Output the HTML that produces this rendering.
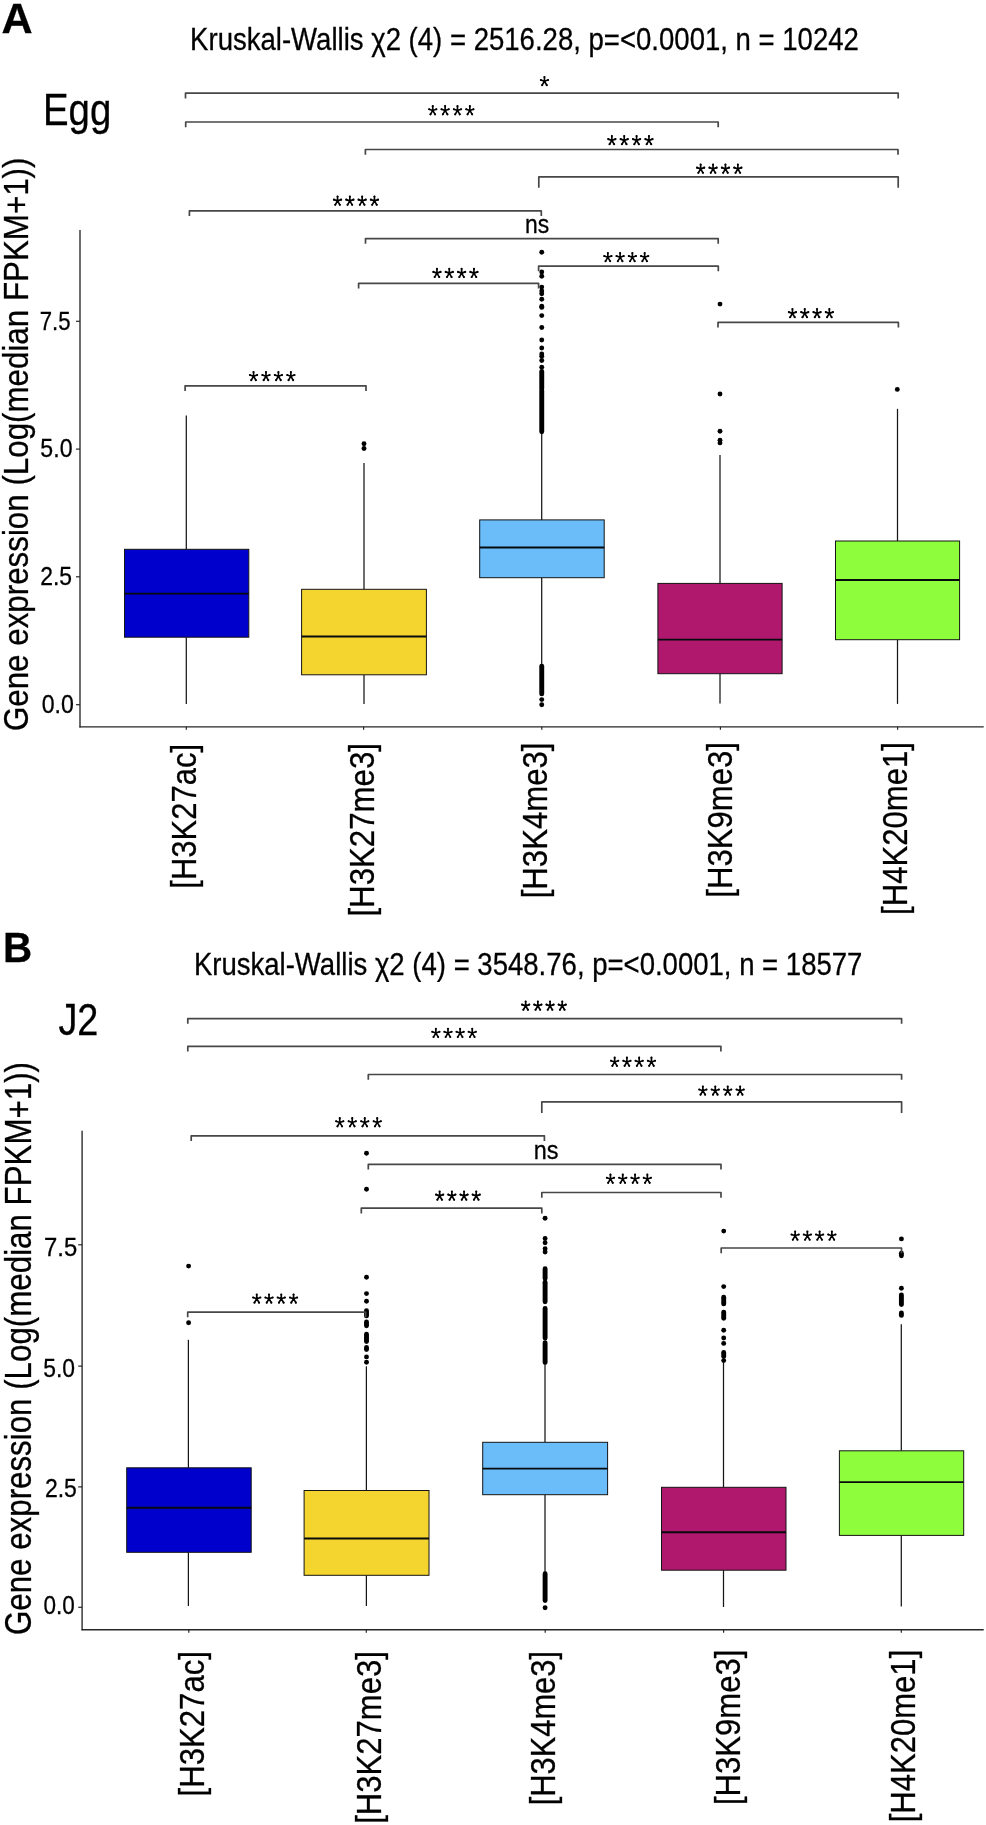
<!DOCTYPE html><html><head><meta charset="utf-8"><style>html,body{margin:0;padding:0;background:#fff;}svg{display:block;}.t{filter:grayscale(1);stroke:#000;stroke-width:0.3px;}text{font-family:"Liberation Sans",sans-serif;}</style></head><body>
<svg width="986" height="1825" viewBox="0 0 986 1825">
<defs><g id="ast"><path d="M0,0V-4.3M0,0L-3.6,-1.25M0,0L3.6,-1.25M0,0L-2.3,3.9M0,0L2.3,3.9" stroke="#000" stroke-width="1.65" stroke-linecap="round" fill="none"/><circle cx="0" cy="-4.3" r="1.05"/><circle cx="-3.6" cy="-1.25" r="1.05"/><circle cx="3.6" cy="-1.25" r="1.05"/><circle cx="-2.3" cy="3.9" r="1.05"/><circle cx="2.3" cy="3.9" r="1.05"/></g></defs>
<rect width="986" height="1825" fill="#fff"/>
<text class="t" transform="translate(1.62,32.60) scale(1.0031,1)" font-size="43" font-weight="bold" fill="#000">A</text>
<text class="t" transform="translate(190.09,50.20) scale(0.9038,1)" font-size="30.5" fill="#000">Kruskal-Wallis χ2 (4) = 2516.28, p=&lt;0.0001, n = 10242</text>
<text class="t" transform="translate(42.93,124.90) scale(0.8631,1)" font-size="44.5" fill="#000">Egg</text>
<text class="t" transform="translate(28.00,731.07) rotate(-90) scale(0.8701,1)" font-size="36">Gene expression (Log(median FPKM+1))</text>
<line x1="80.00" y1="230.00" x2="80.00" y2="727.40" stroke="#262626" stroke-width="1.35"/>
<line x1="79.40" y1="726.80" x2="983.70" y2="726.80" stroke="#262626" stroke-width="1.35"/>
<line x1="76.00" y1="321.30" x2="80.00" y2="321.30" stroke="#262626" stroke-width="1.2"/>
<line x1="76.00" y1="449.10" x2="80.00" y2="449.10" stroke="#262626" stroke-width="1.2"/>
<line x1="76.00" y1="576.80" x2="80.00" y2="576.80" stroke="#262626" stroke-width="1.2"/>
<line x1="76.00" y1="704.70" x2="80.00" y2="704.70" stroke="#262626" stroke-width="1.2"/>
<line x1="186.30" y1="726.80" x2="186.30" y2="729.80" stroke="#262626" stroke-width="1.2"/>
<line x1="363.60" y1="726.80" x2="363.60" y2="729.80" stroke="#262626" stroke-width="1.2"/>
<line x1="541.80" y1="726.80" x2="541.80" y2="729.80" stroke="#262626" stroke-width="1.2"/>
<line x1="720.40" y1="726.80" x2="720.40" y2="729.80" stroke="#262626" stroke-width="1.2"/>
<line x1="897.60" y1="726.80" x2="897.60" y2="729.80" stroke="#262626" stroke-width="1.2"/>
<text class="t" transform="translate(39.79,329.80) scale(0.8688,1)" font-size="25.5" fill="#000">7.5</text>
<text class="t" transform="translate(40.37,456.90) scale(0.9070,1)" font-size="25.5" fill="#000">5.0</text>
<text class="t" transform="translate(40.15,584.70) scale(0.8989,1)" font-size="25.5" fill="#000">2.5</text>
<text class="t" transform="translate(41.67,713.20) scale(0.9070,1)" font-size="25.5" fill="#000">0.0</text>
<text class="t" transform="translate(195.90,888.67) rotate(-90) scale(0.8811,1)" font-size="35.2">[H3K27ac]</text>
<text class="t" transform="translate(373.80,916.59) rotate(-90) scale(0.8874,1)" font-size="35.2">[H3K27me3]</text>
<text class="t" transform="translate(546.80,898.28) rotate(-90) scale(0.8844,1)" font-size="35.2">[H3K4me3]</text>
<text class="t" transform="translate(731.80,897.68) rotate(-90) scale(0.8844,1)" font-size="35.2">[H3K9me3]</text>
<text class="t" transform="translate(906.80,914.88) rotate(-90) scale(0.8832,1)" font-size="35.2">[H4K20me1]</text>
<line x1="186.30" y1="415.50" x2="186.30" y2="549.30" stroke="#161616" stroke-width="1.25"/>
<line x1="186.30" y1="637.20" x2="186.30" y2="704.00" stroke="#161616" stroke-width="1.25"/>
<rect x="124.50" y="549.30" width="124.30" height="87.90" fill="#0000cd" stroke="#151515" stroke-width="1.0"/>
<line x1="124.50" y1="593.60" x2="248.80" y2="593.60" stroke="#080b0d" stroke-width="1.95"/>
<line x1="364.00" y1="463.10" x2="364.00" y2="589.30" stroke="#161616" stroke-width="1.25"/>
<line x1="364.00" y1="674.80" x2="364.00" y2="704.00" stroke="#161616" stroke-width="1.25"/>
<rect x="301.60" y="589.30" width="124.80" height="85.50" fill="#f4d52f" stroke="#151515" stroke-width="1.0"/>
<line x1="301.60" y1="636.50" x2="426.40" y2="636.50" stroke="#080b0d" stroke-width="1.95"/>
<line x1="541.70" y1="434.00" x2="541.70" y2="519.90" stroke="#161616" stroke-width="1.25"/>
<line x1="541.70" y1="577.70" x2="541.70" y2="666.00" stroke="#161616" stroke-width="1.25"/>
<rect x="479.70" y="519.90" width="124.50" height="57.80" fill="#6bbdfa" stroke="#151515" stroke-width="1.0"/>
<line x1="479.70" y1="547.40" x2="604.20" y2="547.40" stroke="#080b0d" stroke-width="1.95"/>
<line x1="720.00" y1="455.00" x2="720.00" y2="583.40" stroke="#161616" stroke-width="1.25"/>
<line x1="720.00" y1="673.70" x2="720.00" y2="703.50" stroke="#161616" stroke-width="1.25"/>
<rect x="657.90" y="583.40" width="124.20" height="90.30" fill="#b0186e" stroke="#151515" stroke-width="1.0"/>
<line x1="657.90" y1="639.60" x2="782.10" y2="639.60" stroke="#080b0d" stroke-width="1.95"/>
<line x1="897.50" y1="408.80" x2="897.50" y2="541.00" stroke="#161616" stroke-width="1.25"/>
<line x1="897.50" y1="639.70" x2="897.50" y2="703.90" stroke="#161616" stroke-width="1.25"/>
<rect x="835.50" y="541.00" width="124.10" height="98.70" fill="#8efd3b" stroke="#151515" stroke-width="1.0"/>
<line x1="835.50" y1="580.00" x2="959.60" y2="580.00" stroke="#080b0d" stroke-width="1.95"/>
<circle cx="364.00" cy="443.70" r="2.45"/>
<circle cx="364.00" cy="448.50" r="2.45"/>
<circle cx="720.00" cy="304.10" r="2.45"/>
<circle cx="720.00" cy="394.00" r="2.45"/>
<circle cx="720.00" cy="431.20" r="2.45"/>
<circle cx="720.00" cy="440.20" r="2.45"/>
<circle cx="720.00" cy="442.90" r="2.45"/>
<circle cx="897.30" cy="389.40" r="2.45"/>
<circle cx="541.75" cy="252.30" r="2.45"/>
<circle cx="541.75" cy="272.00" r="2.45"/>
<circle cx="541.75" cy="276.20" r="2.45"/>
<circle cx="541.75" cy="287.10" r="2.45"/>
<circle cx="541.75" cy="291.00" r="2.45"/>
<circle cx="541.75" cy="293.70" r="2.45"/>
<circle cx="541.75" cy="299.20" r="2.45"/>
<circle cx="541.75" cy="306.30" r="2.45"/>
<circle cx="541.75" cy="307.40" r="2.45"/>
<circle cx="541.75" cy="315.60" r="2.45"/>
<circle cx="541.75" cy="327.50" r="2.45"/>
<circle cx="541.75" cy="340.00" r="2.45"/>
<circle cx="541.75" cy="348.00" r="2.45"/>
<circle cx="541.75" cy="354.00" r="2.45"/>
<circle cx="541.75" cy="356.20" r="2.45"/>
<circle cx="541.75" cy="360.50" r="2.45"/>
<circle cx="541.75" cy="367.30" r="2.45"/>
<line x1="541.75" y1="371.50" x2="541.75" y2="388.60" stroke="#000" stroke-width="4.9" stroke-linecap="round"/>
<line x1="541.75" y1="390.60" x2="541.75" y2="431.80" stroke="#000" stroke-width="4.9" stroke-linecap="round"/>
<line x1="541.75" y1="666.30" x2="541.75" y2="693.90" stroke="#000" stroke-width="4.9" stroke-linecap="round"/>
<circle cx="541.75" cy="699.60" r="2.45"/>
<circle cx="541.75" cy="704.80" r="2.45"/>
<path d="M185.50,98.40V93.20H898.20V98.40" fill="none" stroke="#474747" stroke-width="1.7" stroke-linejoin="round"/>
<use href="#ast" x="544.45" y="81.25"/>
<path d="M185.70,127.20V122.00H718.20V127.20" fill="none" stroke="#474747" stroke-width="1.7" stroke-linejoin="round"/>
<use href="#ast" x="432.75" y="110.45"/>
<use href="#ast" x="445.12" y="110.45"/>
<use href="#ast" x="457.48" y="110.45"/>
<use href="#ast" x="469.85" y="110.45"/>
<path d="M365.40,154.70V149.50H898.00V154.70" fill="none" stroke="#474747" stroke-width="1.7" stroke-linejoin="round"/>
<use href="#ast" x="611.85" y="140.35"/>
<use href="#ast" x="624.22" y="140.35"/>
<use href="#ast" x="636.58" y="140.35"/>
<use href="#ast" x="648.95" y="140.35"/>
<path d="M538.80,187.80V176.90H898.20V187.80" fill="none" stroke="#474747" stroke-width="1.7" stroke-linejoin="round"/>
<use href="#ast" x="700.65" y="168.90"/>
<use href="#ast" x="713.05" y="168.90"/>
<use href="#ast" x="725.45" y="168.90"/>
<use href="#ast" x="737.85" y="168.90"/>
<path d="M189.40,216.10V210.90H541.30V216.10" fill="none" stroke="#474747" stroke-width="1.7" stroke-linejoin="round"/>
<use href="#ast" x="337.55" y="200.90"/>
<use href="#ast" x="349.85" y="200.90"/>
<use href="#ast" x="362.15" y="200.90"/>
<use href="#ast" x="374.45" y="200.90"/>
<path d="M365.50,243.80V238.60H718.20V243.80" fill="none" stroke="#474747" stroke-width="1.7" stroke-linejoin="round"/>
<text class="t" transform="translate(524.91,233.40) scale(0.8993,1)" font-size="25.5" fill="#000">ns</text>
<path d="M538.60,271.30V266.10H718.30V271.30" fill="none" stroke="#474747" stroke-width="1.7" stroke-linejoin="round"/>
<use href="#ast" x="607.85" y="257.30"/>
<use href="#ast" x="620.12" y="257.30"/>
<use href="#ast" x="632.38" y="257.30"/>
<use href="#ast" x="644.65" y="257.30"/>
<path d="M358.60,288.50V283.30H538.60V288.50" fill="none" stroke="#474747" stroke-width="1.7" stroke-linejoin="round"/>
<use href="#ast" x="436.95" y="273.15"/>
<use href="#ast" x="449.28" y="273.15"/>
<use href="#ast" x="461.62" y="273.15"/>
<use href="#ast" x="473.95" y="273.15"/>
<path d="M718.00,327.60V322.40H898.40V327.60" fill="none" stroke="#474747" stroke-width="1.7" stroke-linejoin="round"/>
<use href="#ast" x="792.45" y="313.35"/>
<use href="#ast" x="804.75" y="313.35"/>
<use href="#ast" x="817.05" y="313.35"/>
<use href="#ast" x="829.35" y="313.35"/>
<path d="M185.10,391.00V385.80H366.00V391.00" fill="none" stroke="#474747" stroke-width="1.7" stroke-linejoin="round"/>
<use href="#ast" x="253.55" y="376.25"/>
<use href="#ast" x="265.98" y="376.25"/>
<use href="#ast" x="278.42" y="376.25"/>
<use href="#ast" x="290.85" y="376.25"/>
<text class="t" transform="translate(2.88,961.80) scale(0.9489,1)" font-size="42.5" font-weight="bold" fill="#000">B</text>
<text class="t" transform="translate(193.90,974.90) scale(0.9031,1)" font-size="30.5" fill="#000">Kruskal-Wallis χ2 (4) = 3548.76, p=&lt;0.0001, n = 18577</text>
<text class="t" transform="translate(58.43,1034.50) scale(0.8609,1)" font-size="44" fill="#000">J2</text>
<text class="t" transform="translate(31.20,1635.07) rotate(-90) scale(0.8697,1)" font-size="36">Gene expression (Log(median FPKM+1))</text>
<line x1="82.10" y1="1130.70" x2="82.10" y2="1630.30" stroke="#262626" stroke-width="1.35"/>
<line x1="81.50" y1="1629.70" x2="983.70" y2="1629.70" stroke="#262626" stroke-width="1.35"/>
<line x1="78.20" y1="1244.80" x2="82.10" y2="1244.80" stroke="#262626" stroke-width="1.2"/>
<line x1="78.20" y1="1366.10" x2="82.10" y2="1366.10" stroke="#262626" stroke-width="1.2"/>
<line x1="78.20" y1="1486.90" x2="82.10" y2="1486.90" stroke="#262626" stroke-width="1.2"/>
<line x1="78.20" y1="1607.30" x2="82.10" y2="1607.30" stroke="#262626" stroke-width="1.2"/>
<line x1="188.80" y1="1629.70" x2="188.80" y2="1632.80" stroke="#262626" stroke-width="1.2"/>
<line x1="366.30" y1="1629.70" x2="366.30" y2="1632.80" stroke="#262626" stroke-width="1.2"/>
<line x1="545.20" y1="1629.70" x2="545.20" y2="1632.80" stroke="#262626" stroke-width="1.2"/>
<line x1="723.60" y1="1629.70" x2="723.60" y2="1632.80" stroke="#262626" stroke-width="1.2"/>
<line x1="901.30" y1="1629.70" x2="901.30" y2="1632.80" stroke="#262626" stroke-width="1.2"/>
<text class="t" transform="translate(44.11,1256.30) scale(0.9351,1)" font-size="25.5" fill="#000">7.5</text>
<text class="t" transform="translate(43.18,1376.60) scale(0.8981,1)" font-size="25.5" fill="#000">5.0</text>
<text class="t" transform="translate(44.95,1497.10) scale(0.9020,1)" font-size="25.5" fill="#000">2.5</text>
<text class="t" transform="translate(43.40,1614.30) scale(0.8831,1)" font-size="25.5" fill="#000">0.0</text>
<text class="t" transform="translate(203.80,1796.48) rotate(-90) scale(0.8855,1)" font-size="35.2">[H3K27ac]</text>
<text class="t" transform="translate(381.20,1823.77) rotate(-90) scale(0.8827,1)" font-size="35.2">[H3K27me3]</text>
<text class="t" transform="translate(554.70,1805.36) rotate(-90) scale(0.8768,1)" font-size="35.2">[H3K4me3]</text>
<text class="t" transform="translate(739.80,1805.07) rotate(-90) scale(0.8827,1)" font-size="35.2">[H3K9me3]</text>
<text class="t" transform="translate(914.70,1822.27) rotate(-90) scale(0.8816,1)" font-size="35.2">[H4K20me1]</text>
<line x1="188.40" y1="1339.80" x2="188.40" y2="1467.80" stroke="#161616" stroke-width="1.25"/>
<line x1="188.40" y1="1552.30" x2="188.40" y2="1606.00" stroke="#161616" stroke-width="1.25"/>
<rect x="126.70" y="1467.80" width="124.50" height="84.50" fill="#0000cd" stroke="#151515" stroke-width="1.0"/>
<line x1="126.70" y1="1507.80" x2="251.20" y2="1507.80" stroke="#080b0d" stroke-width="1.95"/>
<line x1="366.40" y1="1366.30" x2="366.40" y2="1490.50" stroke="#161616" stroke-width="1.25"/>
<line x1="366.40" y1="1575.30" x2="366.40" y2="1606.00" stroke="#161616" stroke-width="1.25"/>
<rect x="304.10" y="1490.50" width="124.90" height="84.80" fill="#f4d52f" stroke="#151515" stroke-width="1.0"/>
<line x1="304.10" y1="1538.40" x2="429.00" y2="1538.40" stroke="#080b0d" stroke-width="1.95"/>
<line x1="545.00" y1="1363.40" x2="545.00" y2="1442.30" stroke="#161616" stroke-width="1.25"/>
<line x1="545.00" y1="1494.70" x2="545.00" y2="1572.90" stroke="#161616" stroke-width="1.25"/>
<rect x="482.70" y="1442.30" width="124.90" height="52.40" fill="#6bbdfa" stroke="#151515" stroke-width="1.0"/>
<line x1="482.70" y1="1468.60" x2="607.60" y2="1468.60" stroke="#080b0d" stroke-width="1.95"/>
<line x1="723.50" y1="1362.10" x2="723.50" y2="1487.30" stroke="#161616" stroke-width="1.25"/>
<line x1="723.50" y1="1570.20" x2="723.50" y2="1607.00" stroke="#161616" stroke-width="1.25"/>
<rect x="661.50" y="1487.30" width="124.50" height="82.90" fill="#b0186e" stroke="#151515" stroke-width="1.0"/>
<line x1="661.50" y1="1532.30" x2="786.00" y2="1532.30" stroke="#080b0d" stroke-width="1.95"/>
<line x1="901.30" y1="1324.20" x2="901.30" y2="1450.80" stroke="#161616" stroke-width="1.25"/>
<line x1="901.30" y1="1535.40" x2="901.30" y2="1606.50" stroke="#161616" stroke-width="1.25"/>
<rect x="839.40" y="1450.80" width="124.30" height="84.60" fill="#8efd3b" stroke="#151515" stroke-width="1.0"/>
<line x1="839.40" y1="1482.10" x2="963.70" y2="1482.10" stroke="#080b0d" stroke-width="1.95"/>
<circle cx="188.60" cy="1266.10" r="2.45"/>
<circle cx="188.60" cy="1322.70" r="2.45"/>
<circle cx="366.50" cy="1153.20" r="2.45"/>
<circle cx="366.50" cy="1189.30" r="2.45"/>
<circle cx="366.50" cy="1277.30" r="2.45"/>
<circle cx="366.50" cy="1293.60" r="2.45"/>
<circle cx="366.50" cy="1301.30" r="2.45"/>
<circle cx="366.50" cy="1356.90" r="2.45"/>
<circle cx="366.50" cy="1362.30" r="2.45"/>
<line x1="366.50" y1="1310.80" x2="366.50" y2="1315.90" stroke="#000" stroke-width="4.9" stroke-linecap="round"/>
<line x1="366.50" y1="1321.90" x2="366.50" y2="1325.80" stroke="#000" stroke-width="4.9" stroke-linecap="round"/>
<line x1="366.50" y1="1334.30" x2="366.50" y2="1341.50" stroke="#000" stroke-width="4.9" stroke-linecap="round"/>
<line x1="366.50" y1="1347.50" x2="366.50" y2="1349.60" stroke="#000" stroke-width="4.9" stroke-linecap="round"/>
<circle cx="545.10" cy="1218.20" r="2.45"/>
<circle cx="545.10" cy="1238.50" r="2.45"/>
<circle cx="545.10" cy="1242.70" r="2.45"/>
<circle cx="545.10" cy="1248.80" r="2.45"/>
<circle cx="545.10" cy="1252.00" r="2.45"/>
<circle cx="545.10" cy="1607.70" r="2.45"/>
<line x1="545.10" y1="1268.80" x2="545.10" y2="1278.60" stroke="#000" stroke-width="4.9" stroke-linecap="round"/>
<line x1="545.10" y1="1282.30" x2="545.10" y2="1301.80" stroke="#000" stroke-width="4.9" stroke-linecap="round"/>
<line x1="545.10" y1="1308.40" x2="545.10" y2="1338.10" stroke="#000" stroke-width="4.9" stroke-linecap="round"/>
<line x1="545.10" y1="1342.80" x2="545.10" y2="1362.40" stroke="#000" stroke-width="4.9" stroke-linecap="round"/>
<line x1="545.10" y1="1573.70" x2="545.10" y2="1600.60" stroke="#000" stroke-width="4.9" stroke-linecap="round"/>
<circle cx="723.70" cy="1231.10" r="2.45"/>
<circle cx="723.70" cy="1286.60" r="2.45"/>
<circle cx="723.70" cy="1330.20" r="2.45"/>
<circle cx="723.70" cy="1338.00" r="2.45"/>
<circle cx="723.70" cy="1343.40" r="2.45"/>
<circle cx="723.70" cy="1360.60" r="2.45"/>
<line x1="723.70" y1="1297.30" x2="723.70" y2="1303.90" stroke="#000" stroke-width="4.9" stroke-linecap="round"/>
<line x1="723.70" y1="1312.10" x2="723.70" y2="1318.30" stroke="#000" stroke-width="4.9" stroke-linecap="round"/>
<line x1="723.70" y1="1352.40" x2="723.70" y2="1356.50" stroke="#000" stroke-width="4.9" stroke-linecap="round"/>
<circle cx="901.40" cy="1238.90" r="2.45"/>
<circle cx="901.40" cy="1288.30" r="2.45"/>
<line x1="901.40" y1="1253.30" x2="901.40" y2="1255.70" stroke="#000" stroke-width="4.9" stroke-linecap="round"/>
<line x1="901.40" y1="1294.90" x2="901.40" y2="1304.50" stroke="#000" stroke-width="4.9" stroke-linecap="round"/>
<line x1="901.40" y1="1313.00" x2="901.40" y2="1315.40" stroke="#000" stroke-width="4.9" stroke-linecap="round"/>
<path d="M187.80,1023.80V1018.60H901.60V1023.80" fill="none" stroke="#474747" stroke-width="1.7" stroke-linejoin="round"/>
<use href="#ast" x="525.65" y="1005.85"/>
<use href="#ast" x="537.85" y="1005.85"/>
<use href="#ast" x="550.05" y="1005.85"/>
<use href="#ast" x="562.25" y="1005.85"/>
<path d="M187.80,1051.60V1046.40H720.90V1051.60" fill="none" stroke="#474747" stroke-width="1.7" stroke-linejoin="round"/>
<use href="#ast" x="435.85" y="1033.05"/>
<use href="#ast" x="447.98" y="1033.05"/>
<use href="#ast" x="460.12" y="1033.05"/>
<use href="#ast" x="472.25" y="1033.05"/>
<path d="M368.30,1079.70V1074.50H901.60V1079.70" fill="none" stroke="#474747" stroke-width="1.7" stroke-linejoin="round"/>
<use href="#ast" x="614.65" y="1061.95"/>
<use href="#ast" x="626.92" y="1061.95"/>
<use href="#ast" x="639.18" y="1061.95"/>
<use href="#ast" x="651.45" y="1061.95"/>
<path d="M541.80,1112.90V1101.90H901.60V1112.90" fill="none" stroke="#474747" stroke-width="1.7" stroke-linejoin="round"/>
<use href="#ast" x="702.85" y="1090.75"/>
<use href="#ast" x="715.28" y="1090.75"/>
<use href="#ast" x="727.72" y="1090.75"/>
<use href="#ast" x="740.15" y="1090.75"/>
<path d="M191.20,1141.00V1135.80H544.40V1141.00" fill="none" stroke="#474747" stroke-width="1.7" stroke-linejoin="round"/>
<use href="#ast" x="339.75" y="1122.45"/>
<use href="#ast" x="352.25" y="1122.45"/>
<use href="#ast" x="364.75" y="1122.45"/>
<use href="#ast" x="377.25" y="1122.45"/>
<path d="M368.30,1169.50V1164.30H721.00V1169.50" fill="none" stroke="#474747" stroke-width="1.7" stroke-linejoin="round"/>
<text class="t" transform="translate(533.78,1159.30) scale(0.9198,1)" font-size="25.5" fill="#000">ns</text>
<path d="M541.80,1197.70V1192.50H721.00V1197.70" fill="none" stroke="#474747" stroke-width="1.7" stroke-linejoin="round"/>
<use href="#ast" x="610.45" y="1178.95"/>
<use href="#ast" x="622.75" y="1178.95"/>
<use href="#ast" x="635.05" y="1178.95"/>
<use href="#ast" x="647.35" y="1178.95"/>
<path d="M361.30,1213.40V1208.20H541.80V1213.40" fill="none" stroke="#474747" stroke-width="1.7" stroke-linejoin="round"/>
<use href="#ast" x="439.65" y="1195.85"/>
<use href="#ast" x="451.85" y="1195.85"/>
<use href="#ast" x="464.05" y="1195.85"/>
<use href="#ast" x="476.25" y="1195.85"/>
<path d="M721.20,1253.20V1248.00H901.50V1253.20" fill="none" stroke="#474747" stroke-width="1.7" stroke-linejoin="round"/>
<use href="#ast" x="795.15" y="1235.80"/>
<use href="#ast" x="807.38" y="1235.80"/>
<use href="#ast" x="819.62" y="1235.80"/>
<use href="#ast" x="831.85" y="1235.80"/>
<path d="M187.70,1317.30V1312.10H365.60V1317.30" fill="none" stroke="#474747" stroke-width="1.7" stroke-linejoin="round"/>
<use href="#ast" x="256.75" y="1298.75"/>
<use href="#ast" x="269.02" y="1298.75"/>
<use href="#ast" x="281.28" y="1298.75"/>
<use href="#ast" x="293.55" y="1298.75"/>
</svg></body></html>
